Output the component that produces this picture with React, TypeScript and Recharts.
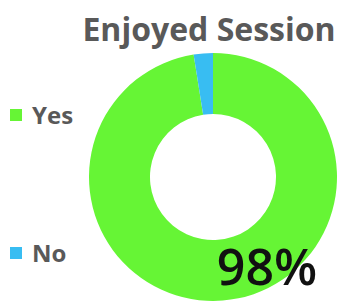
import React from 'react';
import { PieChart, Pie, Cell, Legend, Label } from 'recharts';

const categories = ['Yes', 'No'];
const values = [97.5, 2.5];
const colors = ['#66F535', '#38BDF2'];
const title = 'Enjoyed Session';
const bigLabel = '98%';

const data = categories.map((name, i) => ({ name, value: values[i] }));

const legendTops = [101, 239];
const LEGEND_W = 90;

const renderLegend = () => (
  <div style={{ position: 'relative', width: LEGEND_W, height: 301 }}>
    {categories.map((c, i) => (
      <div key={c} style={{ position: 'absolute', left: 10, top: legendTops[i], display: 'flex', alignItems: 'center' }}>
        <div style={{ width: 12, height: 12, background: colors[i], marginRight: 10 }} />
        <span style={{ fontFamily: '"Open Sans", sans-serif', fontWeight: 700, fontSize: 24, color: '#595959', lineHeight: '28px' }}>{c}</span>
      </div>
    ))}
  </div>
);

const renderBig = (props: any) => {
  const vb = props.viewBox || {};
  const cx = vb.cx ?? 0;
  const cy = vb.cy ?? 0;
  return (
    <text x={cx + 54} y={cy + 108} textAnchor="middle" fontFamily='"Open Sans", sans-serif' fontWeight={600} fontSize={50} fill="#111">
      {bigLabel}
    </text>
  );
};

export default function App() {
  return (
    <div style={{ position: 'absolute', left: 0, top: 0, width: 338, height: 301, background: '#fff' }}>
      <PieChart width={338} height={301} margin={{ top: 0, right: 0, bottom: 0, left: 0 }}>
        <text x={209} y={41} textAnchor="middle" fontFamily='"Open Sans", sans-serif' fontWeight={700} fontSize={32} fill="#595959">{title}</text>
        <Pie
          data={data}
          dataKey="value"
          nameKey="name"
          cx={213 - LEGEND_W}
          cy={177}
          outerRadius={124}
          innerRadius={63}
          startAngle={90}
          endAngle={-270}
          stroke="none"
          isAnimationActive={false}
        >
          {data.map((d, i) => (
            <Cell key={d.name} fill={colors[i]} />
          ))}
          <Label content={renderBig} />
        </Pie>
        <Legend
          layout="vertical"
          align="left"
          verticalAlign="top"
          content={renderLegend}
          wrapperStyle={{ left: 0, top: 0, width: LEGEND_W, height: 301 }}
        />
      </PieChart>
    </div>
  );
}
